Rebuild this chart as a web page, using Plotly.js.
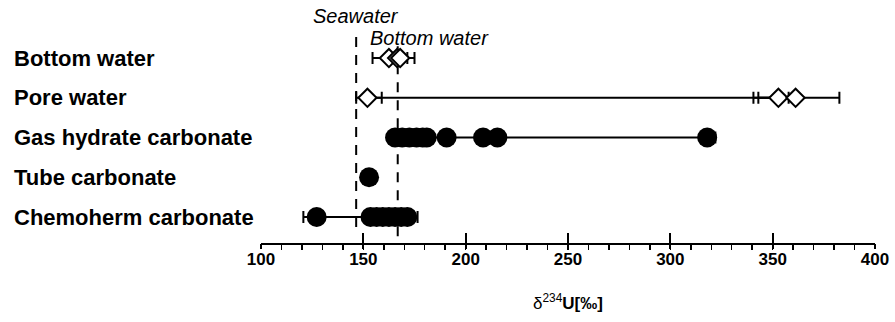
<!DOCTYPE html>
<html>
<head>
<meta charset="utf-8">
<script src="https://cdn.plot.ly/plotly-3.0.1.min.js"></script>
<style>html,body{margin:0;padding:0;background:#fff;}#chart{width:895px;height:322px;}</style>
</head>
<body>
<div id="chart"></div>
<script>
// Categories (bottom to top)
const categories = ["Chemoherm carbonate", "Tube carbonate", "Gas hydrate carbonate", "Pore water", "Bottom water"];
const tickValues = [100, 150, 200, 250, 300, 350, 400];
const tickLabels = ["100", "150", "200", "250", "300", "350", "400"];

// Reference values
const seawaterValue = 146.5;
const bottomWaterValue = 166.8;
const refLabels = ["Seawater", "Bottom water"];

// Bottom water (open diamonds)
const bottomWaterX = [162.5, 166.5, 168];
const bottomWaterErrPlus = [5, 5, 7];
const bottomWaterErrMinus = [8, 4, 4];

// Pore water (open diamonds)
const poreWaterX = [152, 352.8, 361.2];
const poreWaterErrPlus = [7, 5, 21.4];
const poreWaterErrMinus = [5.5, 12.2, 18.2];

// Gas hydrate carbonate (filled circles)
const gasHydrateX = [165.5, 169, 172.5, 176, 179, 181, 190.7, 208.5, 215.5, 318];
const gasHydrateErrPlus = [3, 3, 3, 3, 3, 3, 3, 3, 3, 4];
const gasHydrateErrMinus = [3, 3, 3, 3, 3, 3, 3, 3, 3, 3];

// Tube carbonate
const tubeX = [152.8];
const tubeErrPlus = [2];
const tubeErrMinus = [2];

// Chemoherm carbonate
const chemohermX = [127.2, 153.5, 156.5, 159.5, 162.5, 165.5, 168.5, 171.5];
const chemohermErrPlus = [3, 3, 3, 3, 3, 3, 3, 5];
const chemohermErrMinus = [6.5, 3, 3, 3, 3, 3, 3, 3];

const yRange = [-0.654, 5.21];
const xRange = [100, 400];
const FONT = "Liberation Sans, Arial, sans-serif";

function series(xs, ep, em, rowIndex, symbol) {
  const diamond = symbol === "diamond";
  return {
    type: "scatter",
    mode: "lines+markers",
    x: xs,
    y: xs.map(() => rowIndex),
    line: {color: "#000", width: 2},
    marker: diamond
      ? {symbol: "diamond", size: 14, color: "#fff", line: {color: "#000", width: 2}}
      : {symbol: "circle", size: 20, color: "#000", line: {width: 0}},
    error_x: {type: "data", symmetric: false, array: ep, arrayminus: em, color: "#000", thickness: 2, width: 6},
    showlegend: false,
    hoverinfo: "x"
  };
}

const traces = [
  {type: "scatter", mode: "lines", x: [seawaterValue, seawaterValue], y: [4.53, -0.25],
   line: {color: "#000", width: 2, dash: "10px,8px"}, showlegend: false, hoverinfo: "skip"},
  {type: "scatter", mode: "lines", x: [bottomWaterValue, bottomWaterValue], y: [4.3, yRange[0]],
   line: {color: "#000", width: 2, dash: "10px,8px"}, showlegend: false, hoverinfo: "skip", cliponaxis: false},
  series(chemohermX, chemohermErrPlus, chemohermErrMinus, 0, "circle"),
  series(tubeX, tubeErrPlus, tubeErrMinus, 1, "circle"),
  series(gasHydrateX, gasHydrateErrPlus, gasHydrateErrMinus, 2, "circle"),
  series(poreWaterX, poreWaterErrPlus, poreWaterErrMinus, 3, "diamond"),
  series(bottomWaterX, bottomWaterErrPlus, bottomWaterErrMinus, 4, "diamond"),
  // invisible trace to anchor the secondary tick axis
  {type: "scatter", mode: "markers", x: [xRange[0]], y: [0], xaxis: "x2", yaxis: "y",
   marker: {size: 0, opacity: 0}, showlegend: false, hoverinfo: "skip"}
];

const annotations = categories.map((c, i) => ({
  xref: "paper", yref: "y", x: -0.4055, y: i, xanchor: "left", yanchor: "middle",
  text: "<b>" + c + "</b>", showarrow: false,
  font: {family: FONT, size: 22, color: "#000"}
}));
annotations.push({
  xref: "x", yref: "y", x: seawaterValue, y: 5.06, xanchor: "center", yanchor: "middle",
  text: "<i>" + refLabels[0] + "</i>", showarrow: false,
  font: {family: FONT, size: 20, color: "#000"}
});
annotations.push({
  xref: "x", yref: "y", x: 152.5, y: 4.5, xanchor: "left", yanchor: "middle",
  text: "<i>" + refLabels[1] + "</i>", showarrow: false,
  font: {family: FONT, size: 20, color: "#000"}
});

const layout = {
  width: 895, height: 322,
  margin: {l: 261, r: 20, t: 10, b: 79},
  paper_bgcolor: "#fff", plot_bgcolor: "#fff",
  font: {family: FONT, color: "#000"},
  xaxis: {
    range: xRange, tickmode: "array", tickvals: tickValues, ticktext: tickLabels,
    showgrid: false, zeroline: false, showline: true, linecolor: "#000", linewidth: 2,
    ticks: "inside", ticklen: 10, tickwidth: 2, tickcolor: "#000",
    minor: {dtick: 10, ticks: "outside", ticklen: 5, tickwidth: 1.5, tickcolor: "#000", showgrid: false},
    tickfont: {family: FONT, size: 17, color: "#000", weight: "bold"},
    title: {text: "δ<sup>234</sup><b>U[‰]</b>", font: {family: FONT, size: 17, color: "#000"}, standoff: 29},
    fixedrange: true
  },
  xaxis2: {
    range: xRange, overlaying: "x", anchor: "y", side: "bottom",
    tickmode: "array", tickvals: tickValues, showticklabels: false,
    ticks: "outside", ticklen: 5, tickwidth: 2, tickcolor: "#000",
    showgrid: false, zeroline: false, showline: false, fixedrange: true
  },
  yaxis: {
    range: yRange, showgrid: false, zeroline: false, showline: false,
    showticklabels: false, ticks: "", fixedrange: true
  },
  annotations: annotations,
  showlegend: false
};

Plotly.newPlot("chart", traces, layout, {displayModeBar: false, staticPlot: true});
</script>
</body>
</html>
